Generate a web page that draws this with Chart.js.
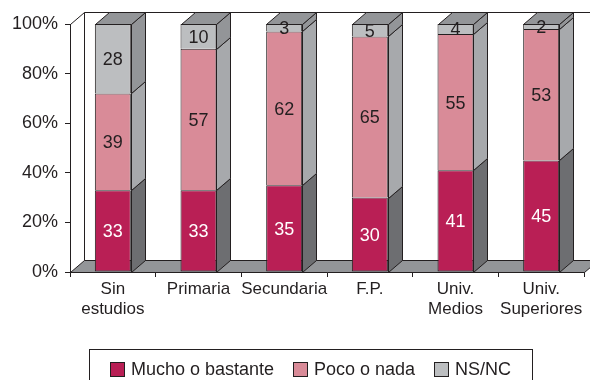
<!DOCTYPE html>
<html lang="es">
<head>
<meta charset="utf-8">
<title>Valoración por nivel de estudios</title>
<script src="https://cdn.jsdelivr.net/npm/chart.js@4.4.1/dist/chart.umd.min.js"></script>
<style>
  html, body { margin: 0; padding: 0; background: #fff; }
  #wrap { width: 590px; height: 380px; }
</style>
</head>
<body>
<div id="wrap"><canvas id="grafico"></canvas></div>
<script>
// Barras apiladas al 100% con efecto 3D (caras laterales, tapa, suelo y pared).

const categorias = [['Sin', 'estudios'], 'Primaria', 'Secundaria', 'F.P.', ['Univ.', 'Medios'], ['Univ.', 'Superiores']];
const muchoBastante = [33, 33, 35, 30, 41, 45];
const pocoNada = [39, 57, 62, 65, 55, 53];
const nsnc = [28, 10, 3, 5, 4, 2];
const series = ['Mucho o bastante', 'Poco o nada', 'NS/NC'];
const ticksY = [0, 20, 40, 60, 80, 100];

const COLORES = ['#B91F55', '#D98B98', '#BCBEC0'];
const LATERAL = ['#6D6E71', '#A7A9AC', '#939598'];
const TAPA = '#939598';
const TINTA = '#231F20';
const PROF = { dx: 14, dy: -12 };
const LEYENDA = { x: 89, y: 349, ancho: 443, alto: 44 };
const FUENTE = '"Liberation Sans", Arial, Helvetica, sans-serif';

Chart.defaults.font.family = FUENTE;
Chart.defaults.color = TINTA;

const px = (v) => Math.round(v) + 0.5;

function poligono(ctx, pts, relleno) {
  ctx.beginPath();
  ctx.moveTo(pts[0][0], pts[0][1]);
  for (let i = 1; i < pts.length; i++) ctx.lineTo(pts[i][0], pts[i][1]);
  ctx.closePath();
  if (relleno) { ctx.fillStyle = relleno; ctx.fill(); }
  ctx.stroke();
}

const profundidad = {
  id: 'profundidad',
  beforeDatasetsDraw(chart) {
    const { ctx, chartArea: a } = chart;
    const { dx, dy } = PROF;
    const l = px(a.left), r = px(a.right), t = px(a.top), b = px(a.bottom);
    ctx.save();
    ctx.strokeStyle = TINTA;
    ctx.lineWidth = 1;
    // suelo
    poligono(ctx, [[l, b], [r, b], [r + dx, b + dy], [l + dx, b + dy]], TAPA);
    // pared del fondo
    ctx.beginPath();
    ctx.moveTo(l, t);
    ctx.lineTo(l + dx, t + dy);
    ctx.lineTo(chart.width, t + dy);
    ctx.moveTo(l + dx, t + dy);
    ctx.lineTo(l + dx, b + dy);
    ctx.stroke();
    ctx.restore();
  },
  afterDatasetsDraw(chart) {
    const { ctx } = chart;
    const { dx, dy } = PROF;
    const n = chart.data.datasets.length;
    ctx.save();
    ctx.strokeStyle = TINTA;
    ctx.lineWidth = 1;
    for (let d = 0; d < n; d++) {
      chart.getDatasetMeta(d).data.forEach((el) => {
        const { x, y, base, width } = el.getProps(['x', 'y', 'base', 'width'], true);
        const izq = px(x - width / 2), der = px(x + width / 2);
        const arriba = px(y), abajo = px(base);
        poligono(ctx, [[der, arriba], [der + dx, arriba + dy], [der + dx, abajo + dy], [der, abajo]], LATERAL[d]);
        if (d === n - 1) {
          poligono(ctx, [[izq, arriba], [izq + dx, arriba + dy], [der + dx, arriba + dy], [der, arriba]], TAPA);
        }
      });
    }
    // valores dentro de cada tramo
    ctx.font = '18px ' + FUENTE;
    ctx.textAlign = 'center';
    ctx.textBaseline = 'middle';
    for (let d = 0; d < n; d++) {
      const valores = chart.data.datasets[d].data;
      chart.getDatasetMeta(d).data.forEach((el, i) => {
        const { x, y, base } = el.getProps(['x', 'y', 'base'], true);
        ctx.fillStyle = d === 0 ? '#FFFFFF' : TINTA;
        ctx.fillText(String(valores[i]), x, (y + base) / 2 + 1.5);
      });
    }
    ctx.restore();
  },
};

const leyenda = {
  id: 'leyenda',
  afterDraw(chart) {
    const { ctx } = chart;
    const caja = 15, hueco = 6, sep = 19;
    ctx.save();
    ctx.font = '18px ' + FUENTE;
    ctx.strokeStyle = TINTA;
    ctx.lineWidth = 1;
    ctx.strokeRect(LEYENDA.x + 0.5, LEYENDA.y + 0.5, LEYENDA.ancho, LEYENDA.alto);
    const anchos = series.map((s) => caja + hueco + ctx.measureText(s).width);
    const total = anchos.reduce((s, w) => s + w, 0) + sep * (series.length - 1);
    let x = LEYENDA.x + (LEYENDA.ancho - total) / 2;
    const yc = LEYENDA.y + 20.5;
    ctx.textBaseline = 'middle';
    ctx.textAlign = 'left';
    series.forEach((s, i) => {
      ctx.fillStyle = COLORES[i];
      ctx.fillRect(Math.round(x), Math.round(yc - caja / 2), caja, caja);
      ctx.strokeRect(Math.round(x) + 0.5, Math.round(yc - caja / 2) + 0.5, caja - 1, caja - 1);
      ctx.fillStyle = TINTA;
      ctx.fillText(s, x + caja + hueco, yc + 1);
      x += anchos[i] + sep;
    });
    ctx.restore();
  },
};

const datos = [muchoBastante, pocoNada, nsnc];

new Chart(document.getElementById('grafico'), {
  type: 'bar',
  data: {
    labels: categorias,
    datasets: datos.map((v, i) => ({
      label: series[i],
      data: v,
      backgroundColor: COLORES[i],
      borderColor: TINTA,
      // un solo trazo entre tramos apilados
      borderWidth: { top: 1, left: 1, right: 1, bottom: i === 0 ? 1 : 0 },
      borderSkipped: false,
      barPercentage: 0.42,
      categoryPercentage: 1,
    })),
  },
  options: {
    responsive: true,
    maintainAspectRatio: false,
    animation: false,
    layout: { padding: { top: 24, right: 6, bottom: 0, left: 0 } },
    plugins: {
      legend: { display: false },
      tooltip: { enabled: false },
    },
    scales: {
      x: {
        stacked: true,
        grid: { drawOnChartArea: false, tickLength: 5, color: TINTA },
        border: { display: true, color: TINTA },
        ticks: { color: TINTA, font: { size: 17, lineHeight: 1.15 }, padding: 3, maxRotation: 0, autoSkip: false },
        afterFit: (s) => { s.height = 108; },
      },
      y: {
        stacked: true,
        min: ticksY[0],
        max: ticksY[ticksY.length - 1],
        afterBuildTicks: (s) => { s.ticks = ticksY.map((v) => ({ value: v })); },
        grid: { drawOnChartArea: false, tickLength: 5, color: TINTA },
        border: { display: true, color: TINTA },
        ticks: { color: TINTA, font: { size: 18 }, padding: 7, callback: (v) => v + '%' },
        afterFit: (s) => { s.width = 70; },
      },
    },
  },
  plugins: [profundidad, leyenda],
});
</script>
</body>
</html>
